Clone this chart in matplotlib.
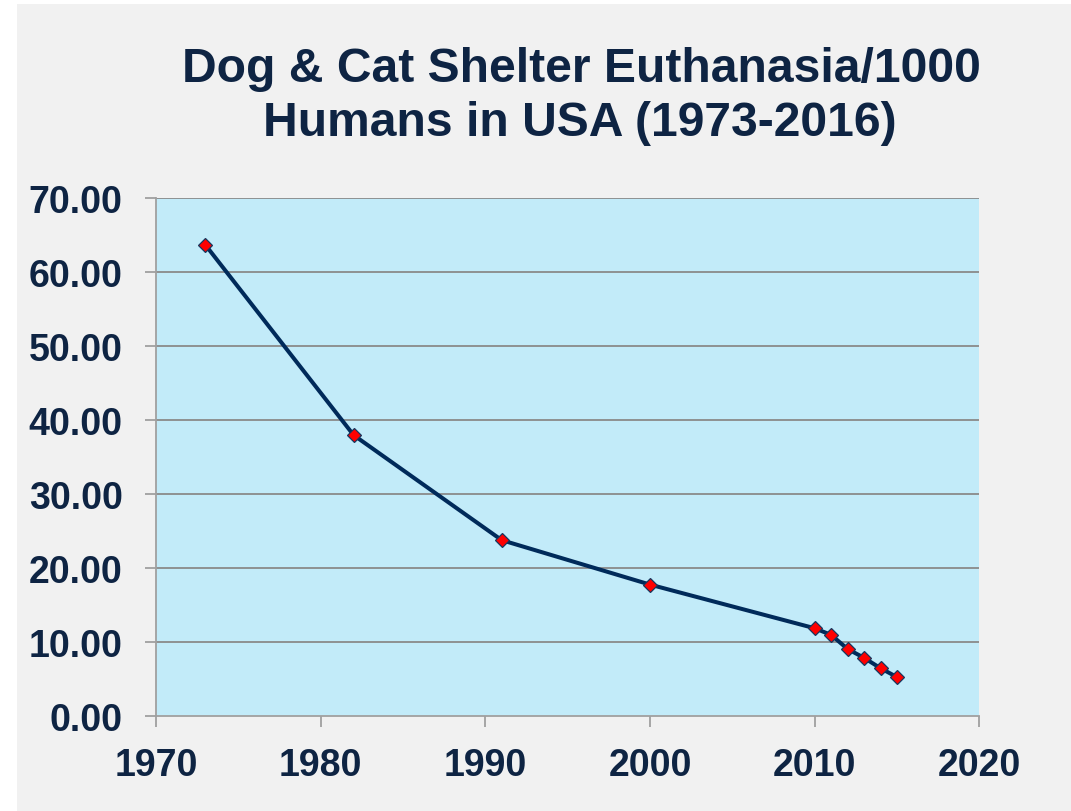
import matplotlib
matplotlib.use("Agg")
import matplotlib.pyplot as plt
from matplotlib.patches import Rectangle

years = [1973, 1982, 1991, 2000, 2010, 2011, 2012, 2013, 2014, 2015]
values = [63.7, 38.0, 23.8, 17.8, 11.9, 11.0, 9.1, 7.9, 6.5, 5.3]
x_ticks = [1970, 1980, 1990, 2000, 2010, 2020]
y_ticks = [0, 10, 20, 30, 40, 50, 60, 70]
title_lines = ["Dog & Cat Shelter Euthanasia/1000", "Humans in USA (1973-2016)"]

plt.rcParams['font.family'] = ['Liberation Sans', 'DejaVu Sans']

W, H = 1071, 812
fig = plt.figure(figsize=(W / 100, H / 100), dpi=100, facecolor='white')
fig.patches.append(Rectangle((17 / W, 0), 1 - 17 / W, (H - 5) / H,
                             transform=fig.transFigure, facecolor='#f1f1f1',
                             edgecolor='none', zorder=-10))

ax = fig.add_axes([156 / W, (H - 717.3) / H, (979.3 - 156) / W, (717.3 - 199.3) / H])
ax.set_facecolor('#c2ebf9')
ax.set_xlim(1970, 2020)
ax.set_ylim(0, 70)

for v in y_ticks[1:]:
    ax.axhline(v, color='#8a8a8a', lw=1.3, zorder=1)

ax.plot(years, values, color='#002a5a', lw=2.9, marker='D', ms=7.2,
        mfc='#ff0000', mec='#17375e', mew=0.9, zorder=3, clip_on=False)

text_color = '#0e2443'
ax.set_xticks(x_ticks)
ax.set_yticks(y_ticks)
ax.set_yticklabels([f"{v:.2f}" for v in y_ticks])
ax.tick_params(axis='both', direction='out', length=8, width=1.3, color='#a0a0a0',
               labelsize=27, labelcolor=text_color)
ax.tick_params(axis='y', pad=16)
ax.tick_params(axis='x', pad=14)
for lab in ax.get_xticklabels() + ax.get_yticklabels():
    lab.set_fontweight('bold')

for s in ['top', 'right']:
    ax.spines[s].set_visible(False)
for s in ['left', 'bottom']:
    ax.spines[s].set_color('#a0a0a0')
    ax.spines[s].set_linewidth(1.3)

fig.text(581.5 / W, (H - 82.3) / H, title_lines[0], ha='center', va='baseline',
         fontsize=34.6, fontweight='bold', color=text_color)
fig.text(580 / W, (H - 135.7) / H, title_lines[1], ha='center', va='baseline',
         fontsize=34.6, fontweight='bold', color=text_color)

fig.savefig('out.png', dpi=100, facecolor=fig.get_facecolor())
